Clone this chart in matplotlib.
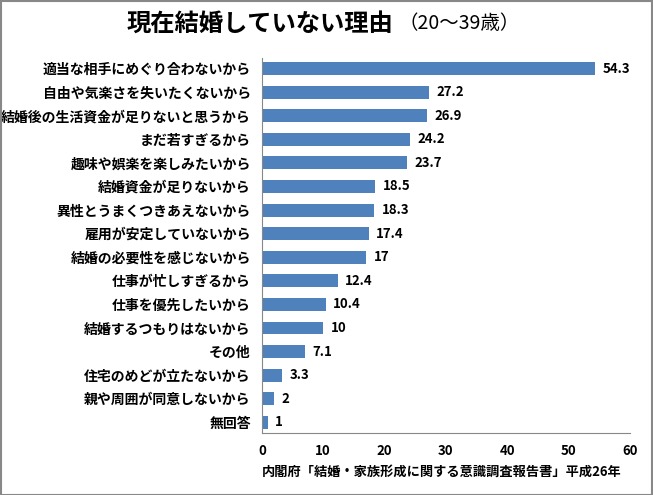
import matplotlib
matplotlib.use("Agg")
import matplotlib.pyplot as plt

plt.rcParams['font.family'] = ['Noto Sans CJK JP', 'DejaVu Sans']

reasons = ["適当な相手にめぐり合わないから", "自由や気楽さを失いたくないから",
           "結婚後の生活資金が足りないと思うから", "まだ若すぎるから",
           "趣味や娯楽を楽しみたいから", "結婚資金が足りないから",
           "異性とうまくつきあえないから", "雇用が安定していないから",
           "結婚の必要性を感じないから", "仕事が忙しすぎるから",
           "仕事を優先したいから", "結婚するつもりはないから", "その他",
           "住宅のめどが立たないから", "親や周囲が同意しないから", "無回答"]
values = [54.3, 27.2, 26.9, 24.2, 23.7, 18.5, 18.3, 17.4, 17, 12.4, 10.4, 10, 7.1, 3.3, 2, 1]
value_labels = ["54.3", "27.2", "26.9", "24.2", "23.7", "18.5", "18.3", "17.4", "17",
                "12.4", "10.4", "10", "7.1", "3.3", "2", "1"]
xticks = [0, 10, 20, 30, 40, 50, 60]

fig = plt.figure(figsize=(6.53, 4.95), dpi=100)
ax = fig.add_axes([0.401, 0.1253, 0.564, 0.7577])

pos = list(range(len(reasons)))
ax.barh(pos, values, height=0.55, color="#4F81BD")
for p, v, lab in zip(pos, values, value_labels):
    ax.text(v + 1.2, p, lab, va="center", ha="left", fontsize=9.5, fontweight="bold")

ax.set_xlim(0, 60)
ax.set_ylim(15.45, -0.45)
ax.set_yticks(pos)
ax.set_yticklabels(reasons, fontsize=10, fontweight="bold")
ax.set_xticks(xticks)
ax.set_xticklabels([str(t) for t in xticks], fontsize=9.5, fontweight="bold")
ax.tick_params(axis="both", length=0, pad=8)
ax.spines["top"].set_visible(False)
ax.spines["right"].set_visible(False)
ax.spines["left"].set_color("#888888")
ax.spines["bottom"].set_color("#888888")

fig.text(0.603, 0.953, "現在結婚していない理由", ha="right", va="center",
         fontsize=17.5, fontweight="bold")
fig.text(0.610, 0.953, "（20～39歳）", ha="left", va="center", fontsize=14)
fig.text(0.952, 0.047, "内閣府「結婚・家族形成に関する意識調査報告書」平成26年",
         ha="right", va="center", fontsize=9.5, fontweight="bold")

fig.patches.append(plt.Rectangle((0.001, 0.001), 0.997, 0.997, transform=fig.transFigure,
                                 fill=False, edgecolor="#888888", linewidth=1.5))

fig.savefig("out.png", dpi=100)
